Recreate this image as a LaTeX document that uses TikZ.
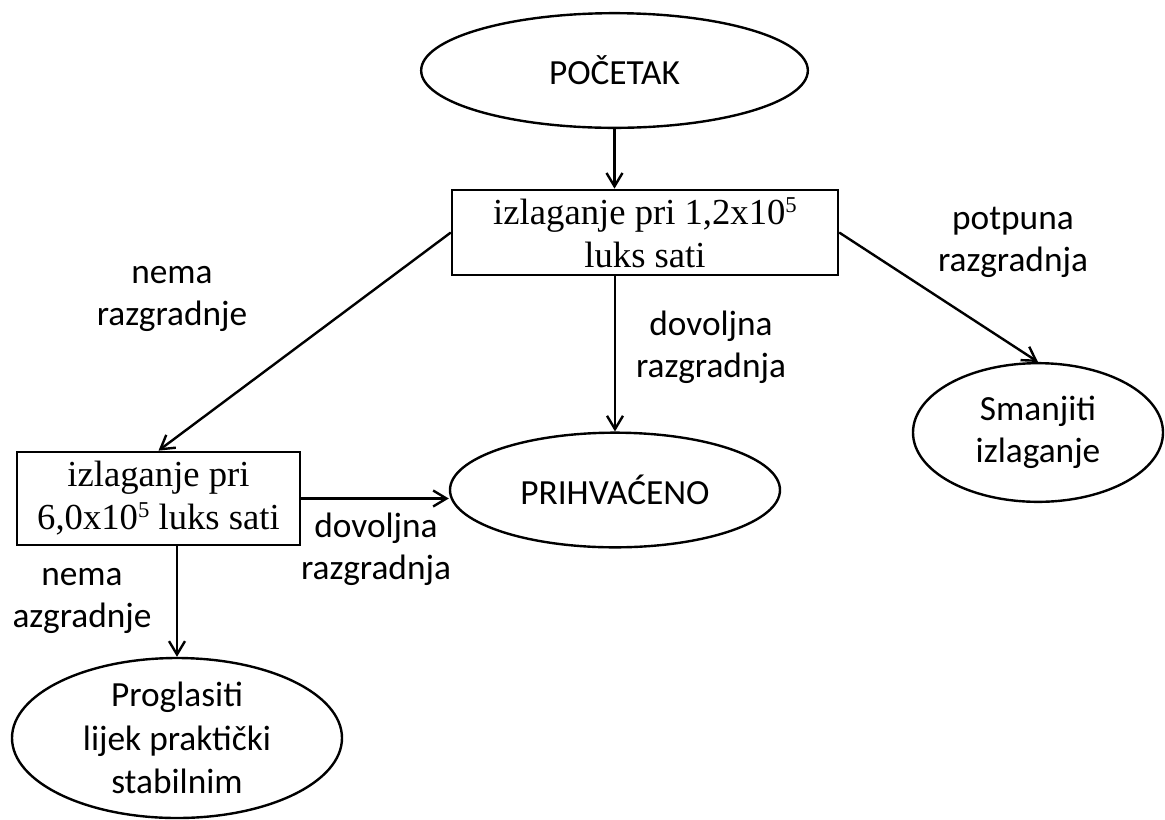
\documentclass[tikz,border=0pt]{standalone}
\usepackage{fontspec}
\setmainfont{Liberation Serif}
\newfontfamily\calfont{Carlito}
\usetikzlibrary{shapes.geometric,arrows.meta}
\newcommand{\supfive}{\raisebox{9pt}{\fontsize{17pt}{17pt}\selectfont 5}}
\begin{document}
\begin{tikzpicture}[x=0.75pt,y=-0.75pt, line width=1.8pt,
 oval/.style={draw, ellipse, inner sep=0pt, align=center, font=\calfont\fontsize{26.5pt}{31.5pt}\selectfont},
 boxn/.style={draw, rectangle, inner sep=0pt, align=center, font=\fontsize{27.5pt}{32.25pt}\selectfont},
 lbl/.style={align=center, inner sep=0pt, font=\calfont\fontsize{26.5pt}{31.5pt}\selectfont},
 arr/.style={-{Straight Barb[length=10pt,width=12pt]}}]
\useasboundingbox (0,0) rectangle (1165,819);

\node[oval, minimum width=290pt, minimum height=86pt] (start) at (614.5,70.5) {POČETAK};
\node[boxn, minimum width=289.5pt, minimum height=64pt] (b1) at (645,232.5) {izlaganje pri 1,2x10\supfive\\luks sati};
\node[oval, minimum width=247.5pt, minimum height=86pt] (acc) at (615,490) {PRIHVAĆENO};
\node[oval, minimum width=187.5pt, minimum height=104pt] (red) at (1038,432.5) {Smanjiti\\izlaganje};
\node[boxn, minimum width=212pt, minimum height=70pt] (b2) at (158.5,498.5) {izlaganje pri\\6,0x10\supfive{} luks sati};
\node[oval, inner ysep=-4pt, minimum width=247.5pt, minimum height=120pt, font=\calfont\fontsize{26.5pt}{32.5pt}\selectfont] (prog) at (177,738) {Proglasiti\\lijek praktički\\stabilnim};

\draw[arr] (start.south) -- (start.south |- b1.north);
\draw[arr] (acc.north |- b1.south) -- (acc.north);
\draw[arr] (b1.east) -- (red.north);
\draw[arr] (b1.west) -- (b2.north);
\draw[arr] (b2.east) -- (b2.east -| acc.west);
\draw[arr] (prog.north |- b2.south) -- (prog.north);

\node[lbl] (l1) at (172,299) {nema\\razgradnje};
\node[lbl] (l2) at (711,347.5) {dovoljna\\razgradnja};
\node[lbl] (l3) at (1013,242) {potpuna\\razgradnja};
\node[lbl] (l4) at (376,549) {dovoljna\\razgradnja};
\node[lbl] (l5) at (82,601) {nema\\azgradnje};
\end{tikzpicture}
\end{document}
